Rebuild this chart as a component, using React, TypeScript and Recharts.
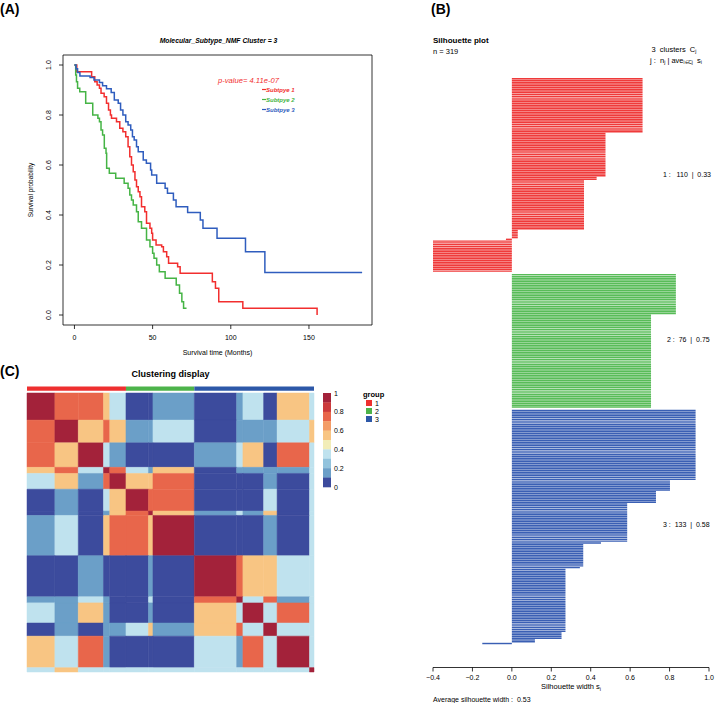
import React from 'react';
import { LineChart, Line, XAxis, YAxis, ReferenceArea, BarChart, Bar, Cell, ComposedChart, Scatter } from 'recharts';

const FONT = '"Liberation Sans", Arial, Helvetica, sans-serif';

// ---------- Panel A: survival curves (time in months, survival probability) ----------
const subtype1: [number, number][] = [[0,1],[1.5,0.973],[11,0.953],[13,0.933],[14.5,0.92],[16,0.907],[17,0.887],[19,0.873],[20.5,0.847],[21.8,0.82],[23,0.8],[23.7,0.787],[26.9,0.773],[29,0.747],[31,0.733],[32.8,0.713],[34.3,0.673],[35.4,0.633],[36.5,0.6],[37.6,0.573],[38.7,0.54],[39.7,0.513],[40.8,0.493],[41.9,0.473],[42.9,0.433],[45,0.413],[46.1,0.367],[48.3,0.347],[49.4,0.327],[50,0.3],[52.2,0.28],[55.8,0.273],[56.9,0.253],[59,0.233],[60.2,0.207],[66,0.193],[67.6,0.167],[88.2,0.133],[90.2,0.107],[92.3,0.053],[107.7,0.027],[155.2,0]];
const subtype2: [number, number][] = [[0,1],[0.8,0.96],[1.3,0.933],[2,0.907],[3.4,0.893],[7.2,0.847],[11.7,0.8],[15,0.787],[16,0.773],[17,0.74],[18,0.72],[19.1,0.667],[20.2,0.647],[20.6,0.587],[22.3,0.567],[26.4,0.547],[31.8,0.527],[34.3,0.507],[35.4,0.48],[36.5,0.46],[37.6,0.44],[39.7,0.413],[40.8,0.373],[42.9,0.347],[46.1,0.3],[48.3,0.273],[50,0.247],[50.9,0.227],[52.6,0.2],[54.3,0.173],[58,0.147],[65.1,0.12],[67.2,0.087],[68.7,0.053],[69.8,0.027],[71.7,0.027]];
const subtype3: [number, number][] = [[0,1],[1,0.985],[2,0.97],[3.5,0.956],[10,0.95],[12.5,0.94],[16,0.93],[18,0.917],[20.5,0.905],[23.5,0.89],[25.5,0.86],[28,0.847],[29.5,0.82],[31,0.8],[32.8,0.773],[34.3,0.76],[36,0.74],[37.1,0.713],[38.2,0.7],[39.7,0.673],[40.8,0.653],[44,0.62],[46,0.607],[48.7,0.58],[49.4,0.56],[52.6,0.527],[58,0.507],[59.5,0.487],[63.3,0.46],[65,0.433],[72.4,0.41],[80.5,0.38],[82.2,0.347],[91.2,0.307],[109.4,0.253],[121.8,0.17],[184,0.17]];
const subtypeNames = ['Subtpye 1', 'Subtpye 2', 'Subtpye 3'];
const subtypeColors = ['#F22E2E', '#45B445', '#2F5DBE'];
const survTicksX = [0, 50, 100, 150];
const survTicksY = [0, 0.2, 0.4, 0.6, 0.8, 1.0];
const survDomainX: [number, number] = [-7.32, 190.32];
const survDomainY: [number, number] = [-0.04, 1.04];

// ---------- Panel B: silhouette widths (value, count), sorted within cluster ----------
const cluster1Widths: [number, number][] = [[0.663,31],[0.475,25],[0.43,2],[0.366,28],[0.03,5],[-0.03,1],[-0.4,18]];
const cluster2Widths: [number, number][] = [[0.832,23],[0.706,53]];
const cluster3Widths: [number, number][] = [[0.932,40],[0.802,6],[0.731,7],[0.585,22],[0.452,1],[0.362,13],[0.345,1],[0.272,36],[0.252,4],[0.117,2],[-0.15,1]];
const clusterColors = ['#EF3A3A', '#58BC58', '#3A5FB4'];
const silTicks = [-0.4, -0.2, 0, 0.2, 0.4, 0.6, 0.8, 1.0];

// ---------- Panel C: consensus matrix blocks ----------
const groupSizes = [110, 76, 133];
const groupColors = ['#EE2F2F', '#4DB34A', '#2D58A8'];
const blockEdges = [0, 31, 57, 85, 92, 110, 135, 140, 186, 233, 240, 263, 278, 314, 319];
const consensus: number[][] = [
  [.95,.75,.75,.55,.35,.05,.05,.15,.05,.15,.35,.05,.55,.35],
  [.75,.95,.55,.75,.55,.15,.15,.35,.05,.15,.15,.15,.35,.55],
  [.75,.55,.95,.35,.15,.05,.05,.05,.15,.35,.55,.05,.75,.35],
  [.55,.75,.35,.95,.75,.35,.15,.55,.05,.15,.15,.15,.15,.35],
  [.35,.55,.15,.75,.95,.55,.55,.75,.05,.05,.05,.15,.05,.35],
  [.05,.15,.05,.35,.55,.95,.75,.75,.05,.05,.05,.35,.05,.35],
  [.05,.15,.05,.15,.55,.75,.95,.55,.15,.35,.15,.55,.05,.35],
  [.15,.35,.05,.55,.75,.75,.55,.95,.05,.05,.05,.15,.05,.35],
  [.05,.05,.15,.05,.05,.05,.15,.05,.95,.75,.55,.55,.35,.35],
  [.15,.15,.35,.15,.05,.05,.35,.05,.75,.95,.35,.75,.15,.35],
  [.35,.15,.55,.15,.05,.05,.15,.05,.55,.35,.95,.35,.75,.35],
  [.05,.15,.05,.15,.15,.35,.55,.15,.55,.75,.35,.95,.35,.35],
  [.55,.35,.75,.15,.05,.05,.05,.05,.35,.15,.75,.35,.95,.35],
  [.35,.55,.35,.35,.35,.35,.35,.35,.35,.35,.35,.35,.35,.95],
];
// palette from 1 (top) to 0 (bottom), one band per 0.1
const paletteTopDown = ['#A3223A', '#CB3A3C', '#E8664B', '#F39C67', '#F8C583', '#F2EDB8', '#BFE2EE', '#92C3DD', '#6B9FC8', '#3C4B9D'];
const legendLabels = ['1', '0.8', '0.6', '0.4', '0.2', '0'];

const colorOf = (v: number) => {
  const idx = Math.min(9, Math.max(0, 9 - Math.floor(v * 10)));
  return paletteTopDown[idx];
};

// ---------- helpers ----------
function buildSilRows() {
  const rows: { i: number; v: number | null; c: string }[] = [];
  let k = 0;
  const lists = [cluster1Widths, cluster2Widths, cluster3Widths];
  lists.forEach((segs, ci) => {
    segs.forEach(([v, n]) => {
      for (let j = 0; j < n; j++) rows.push({ i: k++, v, c: clusterColors[ci] });
    });
    if (ci < 2) rows.push({ i: k++, v: null, c: 'none' });
  });
  for (let j = 0; j < 13; j++) rows.push({ i: k++, v: null, c: 'none' });
  return rows;
}

const T = ({ x, y, size = 7, bold = false, italic = false, color = '#000', anchor = 'start', rotate = 0, children }: any) => (
  <text
    x={x}
    y={y}
    fontSize={size}
    fontWeight={bold ? 'bold' : 'normal'}
    fontStyle={italic ? 'italic' : 'normal'}
    fill={color}
    textAnchor={anchor}
    dominantBaseline="central"
    transform={rotate ? `rotate(${rotate}, ${x}, ${y})` : undefined}
    style={{ whiteSpace: 'pre' }}
    fontFamily={FONT}
  >
    {children}
  </text>
);

function PanelA() {
  const series = [subtype1, subtype2, subtype3];
  return (
    <LineChart width={380} height={360} margin={{ top: 55, right: 8, bottom: 15, left: 33 }}>
      <XAxis
        type="number"
        dataKey="t"
        domain={survDomainX}
        allowDataOverflow
        ticks={survTicksX}
        axisLine={false}
        tickSize={4}
        tickLine={{ stroke: '#000', strokeWidth: 0.8 }}
        height={20}
        tick={(p: any) => (
          <text x={p.x} y={p.y + 6} textAnchor="middle" dominantBaseline="central" fontSize={7} fontFamily={FONT} fill="#000">
            {p.payload.value}
          </text>
        )}
      />
      <YAxis
        type="number"
        domain={survDomainY}
        allowDataOverflow
        ticks={survTicksY}
        axisLine={false}
        tickSize={4}
        tickLine={{ stroke: '#000', strokeWidth: 0.8 }}
        width={30}
        tick={(p: any) => (
          <text x={p.x - 9} y={p.y} textAnchor="middle" dominantBaseline="central" fontSize={7} fontFamily={FONT} fill="#000" transform={`rotate(-90, ${p.x - 9}, ${p.y})`}>
            {Number(p.payload.value).toFixed(1)}
          </text>
        )}
      />
      <ReferenceArea x1={survDomainX[0]} x2={survDomainX[1]} y1={survDomainY[0]} y2={survDomainY[1]} fill="none" fillOpacity={0} stroke="#000" strokeWidth={0.8} ifOverflow="visible" />
      {series.map((pts, i) => (
        <Line
          key={i}
          data={pts.map(([t, s]) => ({ t, s }))}
          dataKey="s"
          type="stepAfter"
          stroke={subtypeColors[i]}
          strokeWidth={1.5}
          dot={false}
          isAnimationActive={false}
        />
      ))}
    </LineChart>
  );
}

function PanelB() {
  const rows = buildSilRows();
  return (
    <BarChart width={320} height={703} layout="vertical" data={rows} margin={{ top: 78, right: 11, bottom: 15.5, left: 33 }} barCategoryGap={0} barGap={0}>
      <XAxis
        type="number"
        domain={[-0.4, 1.0]}
        ticks={silTicks}
        allowDataOverflow
        tickSize={4}
        height={20}
        axisLine={{ stroke: '#000', strokeWidth: 0.8 }}
        tickLine={{ stroke: '#000', strokeWidth: 0.8 }}
        tick={(p: any) => {
          const v = Number(p.payload.value);
          const s = v < 0 ? '\u2212' + Math.abs(v).toFixed(1) : v.toFixed(1);
          return (
            <text x={p.x} y={p.y + 4} textAnchor="middle" dominantBaseline="central" fontSize={7} fontFamily={FONT} fill="#000">
              {s}
            </text>
          );
        }}
      />
      <YAxis type="category" dataKey="i" hide />
      <Bar dataKey="v" barSize={1.45} isAnimationActive={false}>
        {rows.map((r) => (
          <Cell key={r.i} fill={r.c} />
        ))}
      </Bar>
    </BarChart>
  );
}

function PanelC() {
  const n = blockEdges.length - 1;
  const cells: any[] = [];
  for (let r = 0; r < n; r++) {
    for (let c = 0; c < n; c++) {
      cells.push({ x1: blockEdges[c], x2: blockEdges[c + 1], y1: blockEdges[r], y2: blockEdges[r + 1], col: colorOf(consensus[r][c]) });
    }
  }
  const groups: { x1: number; x2: number; color: string }[] = [];
  let acc = 0;
  groupSizes.forEach((g, i) => {
    groups.push({ x1: acc, x2: acc + g, color: groupColors[i] });
    acc += g;
  });
  const centers = cells.map((c) => ({ x: (c.x1 + c.x2) / 2, y: (c.y1 + c.y2) / 2 }));
  return (
    <ComposedChart width={400} height={343} margin={{ top: 26, right: 86, bottom: 31, left: 27 }}>
      <XAxis type="number" dataKey="x" domain={[0, 319]} allowDataOverflow hide />
      <YAxis type="number" dataKey="y" domain={[-8, 319]} allowDataOverflow reversed hide />
      {cells.map((c, i) => (
        <ReferenceArea key={i} x1={c.x1} x2={c.x2} y1={c.y1} y2={c.y2} fill={c.col} fillOpacity={1} stroke={c.col} strokeWidth={0.5} ifOverflow="visible" />
      ))}
      {groups.map((g, i) => (
        <ReferenceArea key={'g' + i} x1={g.x1} x2={g.x2} y1={-7.5} y2={-2.6} fill={g.color} fillOpacity={1} stroke="none" ifOverflow="visible" />
      ))}
      <Scatter data={centers} dataKey="y" isAnimationActive={false} shape={() => <g />} />
    </ComposedChart>
  );
}

function Overlay() {
  const bandH = 9.4;
  return (
    <svg width={720} height={703} style={{ position: 'absolute', left: 0, top: 0, pointerEvents: 'none' }}>
      {/* panel labels */}
      <T x={0} y={9} size={14} bold>(A)</T>
      <T x={431} y={9} size={14} bold>(B)</T>
      <T x={0} y={371} size={14} bold>(C)</T>

      {/* Panel A texts */}
      <T x={218.5} y={40.5} size={6.8} bold italic anchor="middle">Molecular_Subtype_NMF Cluster = 3</T>
      <T x={218} y={80.5} size={7.6} italic color={subtypeColors[0]}>p-value= 4.11e-07</T>
      {subtypeNames.map((nm, i) => (
        <g key={nm}>
          <line x1={262} x2={266} y1={89.5 + i * 10} y2={89.5 + i * 10} stroke={subtypeColors[i]} strokeWidth={1.2} />
          <T x={266} y={89.5 + i * 10} size={6} bold italic color={subtypeColors[i]}>{nm}</T>
        </g>
      ))}
      <T x={30} y={190} size={6.5} anchor="middle" rotate={-90}>Survival probability</T>
      <T x={217.5} y={352.5} size={7} anchor="middle">Survival time (Months)</T>

      {/* Panel B texts */}
      <T x={433} y={40.5} size={8} bold>Silhouette plot</T>
      <T x={433} y={51.5} size={7.5}>n = 319</T>
      <text x={651.5} y={51.5} fontSize={7.5} fontFamily={FONT} style={{ whiteSpace: 'pre' }}>
        3  clusters  C<tspan fontSize={5} dy={1.8}>j</tspan>
      </text>
      <text x={650} y={62.5} fontSize={7.5} fontFamily={FONT} style={{ whiteSpace: 'pre' }}>
        j :  n<tspan fontSize={5} dy={1.8}>j</tspan>
        <tspan dy={-1.8}> | ave</tspan>
        <tspan fontSize={4.5} dy={1.8}>i{'\u2208'}Cj</tspan>
        <tspan dy={-1.8}>  s</tspan>
        <tspan fontSize={5} dy={1.8}>i</tspan>
      </text>
      <T x={663} y={174} size={7}>{'1 :   110  |  0.33'}</T>
      <T x={667} y={339} size={7}>{'2 :  76  |  0.75'}</T>
      <T x={663} y={524} size={7}>{'3 :  133  |  0.58'}</T>
      <text x={571} y={689} fontSize={7.5} fontFamily={FONT} textAnchor="middle">
        Silhouette width s<tspan fontSize={5} dy={1.8}>i</tspan>
      </text>
      <T x={433} y={699} size={7}>{'Average silhouette width :  0.53'}</T>

      {/* Panel C texts & legends */}
      <T x={170.5} y={373.5} size={9} bold anchor="middle">Clustering display</T>
      {paletteTopDown.map((c, i) => (
        <rect key={c} x={323} y={393 + i * bandH} width={8} height={bandH + 0.3} fill={c} />
      ))}
      {legendLabels.map((l, i) => (
        <T key={l} x={334} y={393 + i * 2 * bandH} size={7}>{l}</T>
      ))}
      <T x={363} y={394} size={7.5} bold>group</T>
      {groupColors.map((c, i) => (
        <g key={c}>
          <rect x={366} y={400 + i * 8} width={6} height={6} fill={c} />
          <T x={375} y={403 + i * 8} size={7}>{String(i + 1)}</T>
        </g>
      ))}
    </svg>
  );
}

export default function App() {
  return (
    <div style={{ position: 'absolute', left: 0, top: 0, width: 720, height: 703, background: '#fff', fontFamily: FONT, overflow: 'hidden' }}>
      <div style={{ position: 'absolute', left: 0, top: 0 }}>
        <PanelA />
      </div>
      <div style={{ position: 'absolute', left: 400, top: 0 }}>
        <PanelB />
      </div>
      <div style={{ position: 'absolute', left: 0, top: 360 }}>
        <PanelC />
      </div>
      <Overlay />
    </div>
  );
}
